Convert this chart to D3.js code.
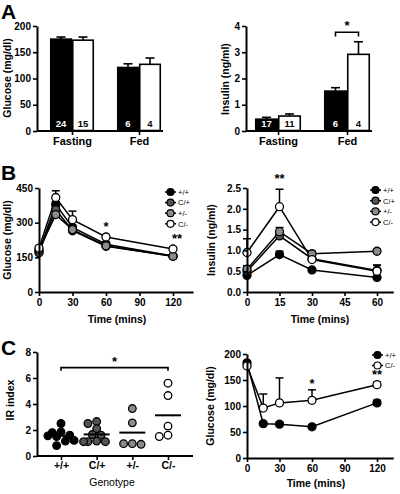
<!DOCTYPE html>
<html><head><meta charset="utf-8">
<script src="https://cdn.jsdelivr.net/npm/d3@7"></script>
<style>body{margin:0;background:#fff}svg{display:block}</style>
</head><body><svg id="c" width="400" height="494"></svg>
<script>
// ---------- DATA ----------
const abGroups = ["Fasting", "Fed"];
const glucoseWT = [175, 121];
const glucoseWTErr = [4, 7];
const glucoseKO = [173, 127];
const glucoseKOErr = [6, 12];
const glucoseN = [[24, 15], [6, 4]];
const insulinWT = [0.45, 1.52];
const insulinWTErr = [0.07, 0.13];
const insulinKO = [0.57, 2.92];
const insulinKOErr = [0.08, 0.48];
const insulinN = [[17, 11], [6, 4]];

const genotypes = ["+/+", "C/+", "+/-", "C/-"];
const genoColors = ["#000000", "#555555", "#8c8c8c", "#ffffff"];

const gttTimes = [0, 15, 30, 60, 120];
const gttGlucose = [
  [175, 379, 279, 207, 156],
  [170, 357, 265, 198, 155],
  [182, 335, 270, 200, 155],
  [190, 409, 313, 238, 186]
];
const gttErr = [
  [8, 12, 10, 8, 6],
  [8, 14, 12, 8, 6],
  [8, 14, 12, 8, 6],
  [10, 29, 37, 10, 8]
];

const gsisTimes = [0, 15, 30, 60];
const gsisInsulin = [
  [0.40, 0.90, 0.53, 0.35],
  [0.50, 1.35, 0.80, 0.52],
  [0.55, 1.45, 0.92, 0.98],
  [0.95, 2.05, 0.78, 0.50]
];
const gsisErr = [
  [0.08, 0.08, 0.04, 0.04],
  [0.08, 0.08, 0.08, 0.12],
  [0.08, 0.10, 0.06, 0.05],
  [0.33, 0.42, 0.15, 0.15]
];

const irIndex = [
  [2.5, 1.85, 1.8, 1.6, 1.55, 1.5, 1.2, 1.15, 0.8],
  [2.65, 2.5, 2.1, 1.65, 1.6, 1.15, 1.1, 1.1, 1.1],
  [3.65, 2.55, 0.95, 0.9, 0.95],
  [5.6, 4.65, 2.3, 1.5, 1.6]
];

const ittTimes = [0, 15, 30, 60, 120];
const ittGroups = ["+/+", "C/-"];
const ittColors = ["#000000", "#ffffff"];
const ittGlucose = [
  [183, 66, 65, 60, 106],
  [177, 96, 106, 111, 141]
];
const ittErr = [
  [4, 4, 4, 4, 5],
  [6, 27, 48, 20, 5]
];

// ---------- DRAW ----------
const FONT = '"Liberation Sans", Arial, Helvetica, sans-serif';
const svg = d3.select("#c").style("font-family", FONT);

function styleAxis(g, fs) {
  g.select(".domain").attr("stroke", "#000").attr("stroke-width", 2);
  g.selectAll(".tick line").attr("stroke", "#000").attr("stroke-width", 1.6);
  g.selectAll(".tick text").attr("fill", "#000").style("font-size", (fs || 10) + "px")
    .style("font-weight", "bold").style("font-family", FONT);
}
function leftAxis(y, x0, ticks, fmt) {
  const g = svg.append("g").attr("transform", `translate(${x0},0)`)
    .call(d3.axisLeft(y).tickValues(ticks).tickSize(4).tickSizeOuter(0).tickPadding(2).tickFormat(fmt || d3.format("d")));
  styleAxis(g, 10);
  return g;
}
function bottomAxis(x, y0, ticks, fs) {
  const g = svg.append("g").attr("transform", `translate(0,${y0})`)
    .call(d3.axisBottom(x).tickValues(ticks).tickSize(4).tickSizeOuter(0).tickPadding(3).tickFormat(d3.format("d")));
  styleAxis(g, fs || 10);
  return g;
}
function text(x, y, s, opts) {
  opts = opts || {};
  const t = svg.append("text").attr("x", x).attr("y", y).text(s)
    .attr("text-anchor", opts.anchor || "middle")
    .style("font-size", (opts.size || 10.5) + "px")
    .style("font-weight", opts.weight || "bold")
    .attr("fill", opts.fill || "#000");
  if (opts.rotate) t.attr("transform", `rotate(-90,${x},${y})`);
  return t;
}
function ytitle(x, y, s) { return text(x, y, s, {rotate: true, size: 10.5}); }

// Bar panel
function barPanel(cfg) {
  const y = d3.scaleLinear().domain([0, cfg.ymax]).range([cfg.yb, cfg.yt]);
  const x = d3.scalePoint().domain(abGroups).range(cfg.centers);
  const bw = cfg.bw;
  const gx = svg.append("g").attr("transform", `translate(0,${cfg.yb})`)
    .call(d3.axisBottom(x).tickSize(4).tickSizeOuter(0).tickPadding(2));
  gx.select(".domain").remove();
  styleAxis(gx, 11);
  svg.append("line").attr("x1", cfg.x0).attr("x2", cfg.x1).attr("y1", cfg.yb).attr("y2", cfg.yb)
    .attr("stroke", "#000").attr("stroke-width", 2);
  const series = [
    {v: cfg.wt, e: cfg.wtErr, fill: "#000", off: -1, tc: "#fff"},
    {v: cfg.ko, e: cfg.koErr, fill: "#fff", off: 0, tc: "#000"}
  ];
  series.forEach((s, si) => {
    abGroups.forEach((grp, i) => {
      const bx = x(grp) + s.off * bw;
      const top = y(s.v[i] + s.e[i]);
      svg.append("line").attr("x1", bx + bw / 2).attr("x2", bx + bw / 2).attr("y1", y(s.v[i])).attr("y2", top)
        .attr("stroke", "#000").attr("stroke-width", 1.6);
      svg.append("line").attr("x1", bx + bw / 2 - 4.5).attr("x2", bx + bw / 2 + 4.5).attr("y1", top).attr("y2", top)
        .attr("stroke", "#000").attr("stroke-width", 1.6);
      svg.append("rect").attr("x", bx + 0.75).attr("y", y(s.v[i])).attr("width", bw - 1.5)
        .attr("height", cfg.yb - y(s.v[i]) - 0.5)
        .attr("fill", s.fill).attr("stroke", "#000").attr("stroke-width", 1.6);
      text(bx + bw / 2, cfg.yb - 4, cfg.n[i][si], {size: 9.5, fill: s.tc});
    });
  });
  leftAxis(y, cfg.x0, cfg.ticks);
  return {x, y};
}

// A left
barPanel({ymax: 200, yb: 131, yt: 26, x0: 37, x1: 163, centers: [72, 139], bw: 22,
  wt: glucoseWT, wtErr: glucoseWTErr, ko: glucoseKO, koErr: glucoseKOErr, n: glucoseN,
  ticks: [0, 50, 100, 150, 200]});
ytitle(11, 78, "Glucose (mg/dl)");
// A right
const a2 = barPanel({ymax: 4, yb: 131, yt: 26, x0: 246, x1: 372, centers: [278, 347], bw: 23,
  wt: insulinWT, wtErr: insulinWTErr, ko: insulinKO, koErr: insulinKOErr, n: insulinN,
  ticks: [0, 1, 2, 3, 4]});
ytitle(229, 79, "Insulin (ng/ml)");
{
  const xa = a2.x("Fed") - 11.5, xb = a2.x("Fed") + 11.5, yy = a2.y(3.76), yd = a2.y(3.6);
  svg.append("path").attr("d", `M${xa},${yd}V${yy}H${xb}V${yd}`).attr("fill", "none")
    .attr("stroke", "#000").attr("stroke-width", 1.6);
  text((xa + xb) / 2, yy - 2, "*", {size: 13});
}

// Line panel
function linePanel(cfg) {
  const x = d3.scaleLinear().domain([0, cfg.xmax]).range([cfg.x0, cfg.x0 + cfg.xmax * cfg.pxPerX]);
  const y = d3.scaleLinear().domain([0, cfg.ymax]).range([cfg.yb, cfg.yt]);
  const line = d3.line().x((d, i) => x(cfg.times[i])).y(d => y(d));
  cfg.data.forEach((ser, si) => {
    ser.forEach((v, i) => {
      const e = cfg.err[si][i];
      const t = y(v + e);
      svg.append("line").attr("x1", x(cfg.times[i])).attr("x2", x(cfg.times[i])).attr("y1", y(v)).attr("y2", t)
        .attr("stroke", "#000").attr("stroke-width", 1.5);
      svg.append("line").attr("x1", x(cfg.times[i]) - 4).attr("x2", x(cfg.times[i]) + 4).attr("y1", t).attr("y2", t)
        .attr("stroke", "#000").attr("stroke-width", 1.5);
    });
  });
  cfg.data.forEach((ser) => {
    svg.append("path").attr("d", line(ser)).attr("fill", "none").attr("stroke", "#000").attr("stroke-width", 1.5);
  });
  cfg.data.forEach((ser, si) => {
    svg.append("g").selectAll("circle").data(ser).join("circle")
      .attr("cx", (d, i) => x(cfg.times[i])).attr("cy", d => y(d)).attr("r", 4)
      .attr("fill", cfg.colors[si]).attr("stroke", "#000").attr("stroke-width", 1.3);
  });
  leftAxis(y, cfg.x0, cfg.yticks, cfg.yfmt);
  bottomAxis(x, cfg.yb, cfg.xticks);
  cfg.names.forEach((nm, i) => {
    const ly = cfg.legY + i * cfg.legDy;
    svg.append("line").attr("x1", cfg.legX).attr("x2", cfg.legX + 11).attr("y1", ly).attr("y2", ly)
      .attr("stroke", "#000").attr("stroke-width", 1.5);
    svg.append("circle").attr("cx", cfg.legX + 5.5).attr("cy", ly).attr("r", 3.5)
      .attr("fill", cfg.colors[i]).attr("stroke", "#000").attr("stroke-width", 1.2);
    text(cfg.legX + 13, ly + 2.8, nm, {anchor: "start", size: 7.5, weight: "normal"});
  });
  return {x, y};
}

// B left
const b1 = linePanel({x0: 39, xmax: 138, pxPerX: 134 / 120, yb: 292, yt: 188, ymax: 450,
  times: gttTimes, data: gttGlucose, err: gttErr, colors: genoColors, names: genotypes,
  yticks: [0, 150, 300, 450], xticks: [0, 30, 60, 90, 120], legX: 165, legY: 192, legDy: 10.6});
ytitle(11, 240, "Glucose (mg/dl)");
text(117, 323, "Time (mins)");
text(b1.x(60), b1.y(238) - 6, "*", {size: 13});
text(b1.x(120) + 4, b1.y(186) - 6, "**", {size: 13});

// B right
const b2 = linePanel({x0: 247, xmax: 67.5, pxPerX: 130 / 60, yb: 292, yt: 188, ymax: 2.5,
  times: gsisTimes, data: gsisInsulin, err: gsisErr, colors: genoColors, names: genotypes,
  yticks: [0, 0.5, 1, 1.5, 2, 2.5], yfmt: d3.format(".1f"), xticks: [0, 15, 30, 45, 60],
  legX: 370, legY: 190, legDy: 10.7});
ytitle(215, 240, "Insulin (ng/ml)");
text(320, 323, "Time (mins)");
text(b2.x(15), b2.y(2.62), "**", {size: 13});

// C left : IR index
{
  const yb = 456;
  const y = d3.scaleLinear().domain([0, 8]).range([yb, 352]);
  const x = d3.scalePoint().domain(genotypes).range([61, 168]);
  const r = 3.8;
  genotypes.forEach((gname, gi) => {
    const vals = irIndex[gi].slice().sort((a, b) => b - a);
    const placed = [];
    vals.forEach(v => {
      const py = y(v);
      let best = null, bestD = -1;
      for (let k = 0; k < 7; k++) {
        const off = (k === 0 ? 0 : (k % 2 ? -1 : 1) * Math.ceil(k / 2)) * (r * 1.15);
        const cand = x(gname) + off;
        const dmin = placed.length ? d3.min(placed, p => Math.hypot(p[0] - cand, p[1] - py)) : Infinity;
        if (dmin >= r * 1.8) { best = cand; break; }
        if (dmin > bestD) { bestD = dmin; best = cand; }
      }
      placed.push([best, py]);
    });
    svg.append("g").selectAll("circle").data(placed).join("circle")
      .attr("cx", d => d[0]).attr("cy", d => d[1]).attr("r", r)
      .attr("fill", genoColors[gi]).attr("stroke", "#000").attr("stroke-width", 1.3);
    const m = d3.mean(irIndex[gi]);
    svg.append("line").attr("x1", x(gname) - 13).attr("x2", x(gname) + 13).attr("y1", y(m)).attr("y2", y(m))
      .attr("stroke", "#000").attr("stroke-width", 2);
  });
  const gx = svg.append("g").attr("transform", `translate(0,${yb})`)
    .call(d3.axisBottom(x).tickSize(4).tickSizeOuter(0).tickPadding(2));
  gx.select(".domain").remove();
  styleAxis(gx, 10.5);
  svg.append("line").attr("x1", 37).attr("x2", 193).attr("y1", yb).attr("y2", yb)
    .attr("stroke", "#000").attr("stroke-width", 2);
  leftAxis(y, 37, [0, 2, 4, 6, 8]);
  ytitle(14, 400, "IR index");
  text(112, 486, "Genotype", {weight: "normal", size: 10.5});
  const xa = x("+/+"), xb = x("C/-"), yy = y(6.8), yd = y(6.55);
  svg.append("path").attr("d", `M${xa},${yd}V${yy}H${xb}V${yd}`).attr("fill", "none")
    .attr("stroke", "#000").attr("stroke-width", 1.6);
  text((xa + xb) / 2, yy - 2, "*", {size: 13});
}

// C right : ITT
const c2 = linePanel({x0: 247, xmax: 135, pxPerX: 130 / 120, yb: 458, yt: 354, ymax: 200,
  times: ittTimes, data: ittGlucose, err: ittErr, colors: ittColors, names: ittGroups,
  yticks: [0, 50, 100, 150, 200], xticks: [0, 30, 60, 90, 120], legX: 372, legY: 355, legDy: 10.5});
ytitle(214, 406, "Glucose (mg/dl)");
text(316, 487, "Time (mins)");
text(c2.x(60), c2.y(131) - 2, "*", {size: 13});
text(c2.x(120), c2.y(141) - 6, "**", {size: 13});

// panel letters
text(1, 19, "A", {anchor: "start", size: 21});
text(1, 180, "B", {anchor: "start", size: 21});
text(1, 355, "C", {anchor: "start", size: 21});
</script></body></html>
